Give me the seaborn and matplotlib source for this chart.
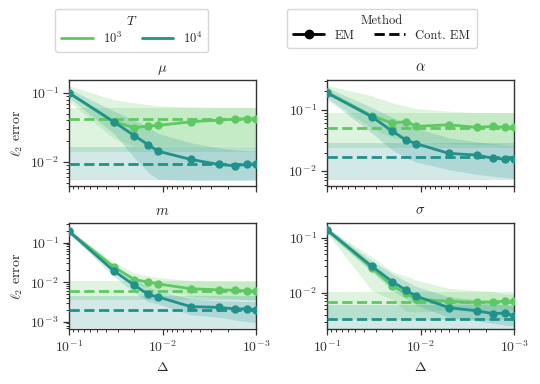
import numpy as np
import matplotlib
matplotlib.use("Agg")
import matplotlib.pyplot as plt
import seaborn as sns
from matplotlib.lines import Line2D

# ---------------- data ----------------
deltas = [1/10, 1/30, 1/50, 1/70, 1/90, 1/200, 1/400, 1/600, 1/800, 1/1000]
panels = ["mu", "alpha", "m", "sigma"]
titles = [r"$\mu$", r"$\alpha$", r"$m$", r"$\sigma$"]
T_labels = [r"$10^3$", r"$10^4$"]

# mu
mu_em3 = [0.1, 0.0383, 0.0315, 0.0332, 0.0339, 0.0383, 0.0405, 0.0418, 0.0423, 0.0423]
mu_em4 = [0.1, 0.0383, 0.024, 0.0178, 0.0143, 0.0109, 0.0092, 0.0088, 0.0093, 0.0093]
mu_em3_hi = [0.127, 0.08, 0.072, 0.068, 0.065, 0.063, 0.062, 0.062, 0.062, 0.062]
mu_em3_lo = [0.075, 0.022, 0.017, 0.017, 0.017, 0.017, 0.017, 0.017, 0.017, 0.017]
mu_em4_hi = [0.115, 0.055, 0.04, 0.032, 0.026, 0.019, 0.016, 0.015, 0.0145, 0.0145]
mu_em4_lo = [0.085, 0.026, 0.0115, 0.0071, 0.0056, 0.0054, 0.0054, 0.0054, 0.0054, 0.0054]
mu_cont = [0.0423, 0.0093]
mu_cont_lo = [0.014, 0.0055]
mu_cont_hi = [0.061, 0.0163]
mu_ylim = [0.0045, 0.155]

# alpha
al_em3 = [0.194, 0.080, 0.0605, 0.0644, 0.0536, 0.057, 0.0516, 0.0536, 0.0516, 0.052]
al_em4 = [0.189, 0.0773, 0.0446, 0.032, 0.028, 0.0194, 0.0182, 0.0161, 0.0157, 0.0157]
al_em3_hi = [0.25, 0.17, 0.13, 0.115, 0.105, 0.095, 0.09, 0.09, 0.09, 0.09]
al_em3_lo = [0.16, 0.05, 0.035, 0.032, 0.03, 0.028, 0.027, 0.027, 0.027, 0.027]
al_em4_hi = [0.23, 0.11, 0.075, 0.06, 0.05, 0.035, 0.03, 0.028, 0.027, 0.026]
al_em4_lo = [0.15, 0.042, 0.022, 0.0165, 0.014, 0.0105, 0.0088, 0.0082, 0.0078, 0.0075]
al_cont = [0.0503, 0.0167]
al_cont_lo = [0.0236, 0.0071]
al_cont_hi = [0.0895, 0.0283]
al_ylim = [0.0057, 0.309]

# m
m_em3 = [0.191, 0.0244, 0.0116, 0.0101, 0.0090, 0.0068, 0.0064, 0.0062, 0.006, 0.006]
m_em4 = [0.191, 0.0193, 0.0083, 0.0049, 0.0042, 0.0024, 0.0023, 0.0021, 0.0021, 0.0020]
m_em3_hi = [0.21, 0.032, 0.017, 0.0145, 0.013, 0.011, 0.0105, 0.0105, 0.0105, 0.0105]
m_em3_lo = [0.17, 0.019, 0.0085, 0.0072, 0.0062, 0.0045, 0.004, 0.0038, 0.0036, 0.0035]
m_em4_hi = [0.21, 0.026, 0.012, 0.0075, 0.0062, 0.0037, 0.0034, 0.0033, 0.0032, 0.0032]
m_em4_lo = [0.17, 0.014, 0.0055, 0.0032, 0.0028, 0.0015, 0.0013, 0.0011, 0.001, 0.00095]
m_cont = [0.0059, 0.00195]
m_cont_lo = [0.0035, 0.00068]
m_cont_hi = [0.0105, 0.0045]
m_ylim = [0.00065, 0.312]

# sigma
sg_em3 = [0.137, 0.028, 0.0133, 0.0097, 0.0077, 0.0070, 0.0067, 0.0069, 0.007, 0.007]
sg_em4 = [0.137, 0.0303, 0.0158, 0.0111, 0.00866, 0.0054, 0.0047, 0.0042, 0.0043, 0.0038]
sg_em3_hi = [0.15, 0.045, 0.024, 0.02, 0.017, 0.012, 0.011, 0.0105, 0.0095, 0.0093]
sg_em3_lo = [0.12, 0.011, 0.0075, 0.0046, 0.0045, 0.0048, 0.0048, 0.0048, 0.0049, 0.0049]
sg_em4_hi = [0.15, 0.038, 0.022, 0.016, 0.013, 0.0085, 0.0075, 0.0065, 0.006, 0.0056]
sg_em4_lo = [0.12, 0.024, 0.011, 0.0078, 0.006, 0.0036, 0.0031, 0.0028, 0.0026, 0.0025]
sg_cont = [0.00668, 0.0034]
sg_cont_lo = [0.0032, 0.0022]
sg_cont_hi = [0.0103, 0.006]
sg_ylim = [0.0022, 0.183]

data = {
    "mu": (mu_em3, mu_em4, mu_em3_lo, mu_em3_hi, mu_em4_lo, mu_em4_hi, mu_cont, mu_cont_lo, mu_cont_hi, mu_ylim),
    "alpha": (al_em3, al_em4, al_em3_lo, al_em3_hi, al_em4_lo, al_em4_hi, al_cont, al_cont_lo, al_cont_hi, al_ylim),
    "m": (m_em3, m_em4, m_em3_lo, m_em3_hi, m_em4_lo, m_em4_hi, m_cont, m_cont_lo, m_cont_hi, m_ylim),
    "sigma": (sg_em3, sg_em4, sg_em3_lo, sg_em3_hi, sg_em4_lo, sg_em4_hi, sg_cont, sg_cont_lo, sg_cont_hi, sg_ylim),
}

# ---------------- style ----------------
sns.set_style("ticks")
plt.rcParams["font.family"] = ["cmr10", "DejaVu Serif"]
plt.rcParams["mathtext.fontset"] = "cm"
plt.rcParams["axes.formatter.use_mathtext"] = True
plt.rcParams["axes.unicode_minus"] = False
plt.rcParams["font.size"] = 10
plt.rcParams["axes.edgecolor"] = "0.2"
plt.rcParams["axes.linewidth"] = 1.0
for a in ("x", "y"):
    plt.rcParams[f"{a}tick.major.size"] = 4
    plt.rcParams[f"{a}tick.minor.size"] = 2.5
    plt.rcParams[f"{a}tick.major.width"] = 0.9
    plt.rcParams[f"{a}tick.minor.width"] = 0.7
    plt.rcParams[f"{a}tick.color"] = "0.2"
    plt.rcParams[f"{a}tick.labelsize"] = 10

colors = ["#5ec962", "#21918c"]

fig, axes = plt.subplots(2, 2, figsize=(5.4, 3.84), dpi=100, sharex=True)
fig.subplots_adjust(left=0.128, right=0.952, top=0.792, bottom=0.143, wspace=0.38, hspace=0.35)

for ax, key, title in zip(axes.flat, panels, titles):
    em3, em4, l3, h3, l4, h4, cont, clo, chi, ylim = data[key]
    ax.set_xscale("log")
    ax.set_yscale("log")
    ems = [em3, em4]
    los = [l3, l4]
    his = [h3, h4]
    for i in range(2):
        ax.axhspan(clo[i], chi[i], color=colors[i], alpha=0.2, lw=0, zorder=1)
        ax.fill_between(deltas, los[i], his[i], color=colors[i], alpha=0.2, lw=0, zorder=1)
    for i in range(2):
        ax.axhline(cont[i], color=colors[i], lw=2, ls="--", zorder=3)
        sns.lineplot(x=deltas, y=ems[i], ax=ax, color=colors[i], lw=2,
                     marker="o", markersize=6, markeredgewidth=0, zorder=4 + i)
    ax.set_xlim(1e-1, 1e-3)
    ax.set_ylim(*ylim)
    ax.set_title(title, fontsize=10.5, pad=6)
    for s in ax.spines.values():
        s.set_visible(True)

axes[0, 0].set_ylabel(r"$\ell_2$ error")
axes[1, 0].set_ylabel(r"$\ell_2$ error")
axes[1, 0].set_xlabel(r"$\Delta$")
axes[1, 1].set_xlabel(r"$\Delta$")

# legends
h_T = [Line2D([], [], color=colors[0], lw=2), Line2D([], [], color=colors[1], lw=2)]
leg1 = fig.legend(h_T, T_labels, title=r"$T$", ncol=2, loc="upper left",
                  bbox_to_anchor=(0.102, 0.977), borderaxespad=0.0,
                  fontsize=9, title_fontsize=9.5,
                  frameon=True, columnspacing=1.6, handlelength=2.5,
                  borderpad=0.5, labelspacing=0.2)
h_M = [Line2D([], [], color="black", lw=2, marker="o", markersize=6),
       Line2D([], [], color="black", lw=2, ls="--")]
leg2 = fig.legend(h_M, ["EM", "Cont. EM"], title="Method", ncol=2, loc="upper left",
                  bbox_to_anchor=(0.531, 0.977), borderaxespad=0.0,
                  fontsize=9, title_fontsize=9,
                  frameon=True, columnspacing=1.6, handlelength=2.5,
                  borderpad=0.5, labelspacing=0.2)

fig.savefig("out.png", dpi=100)
